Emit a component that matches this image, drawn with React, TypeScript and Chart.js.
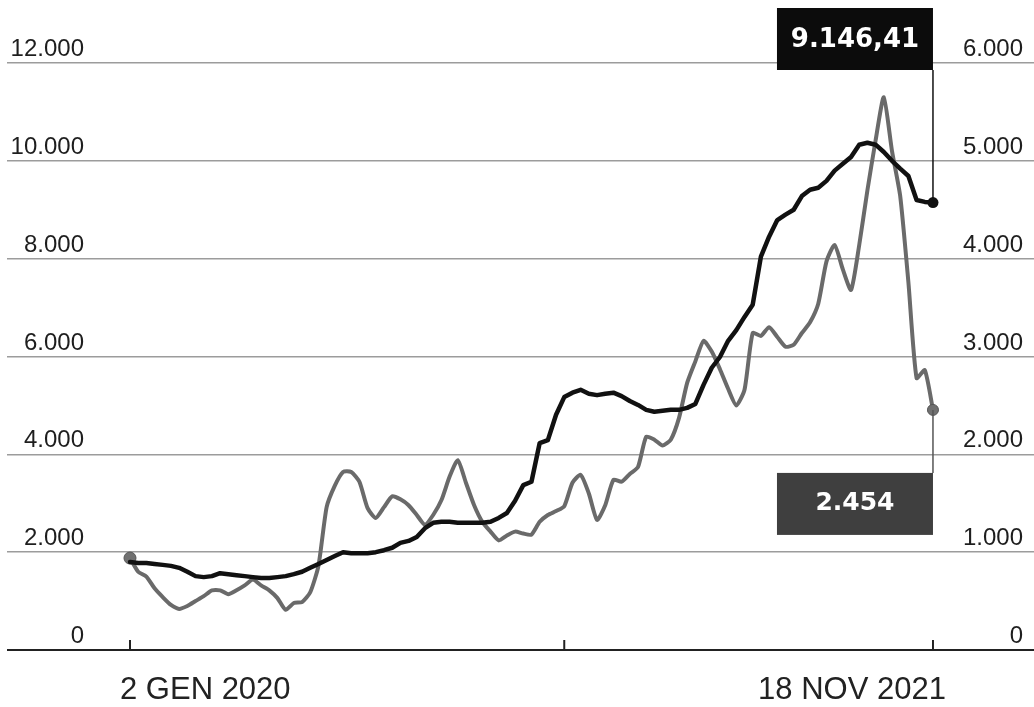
import React, { useEffect, useRef } from "react";
import { Chart, registerables } from "chart.js";

Chart.register(...registerables);

// Weekly observations from 2 Jan 2020 (index 0) to 18 Nov 2021 (index 98)
const xTickIndex = [0, 53, 98];
const xTickLabels = ["2 GEN 2020", "", "18 NOV 2021"];
const leftTicks = [0, 2000, 4000, 6000, 8000, 10000, 12000];
const rightTicks = [0, 1000, 2000, 3000, 4000, 5000, 6000];

// Black series (left axis)
const blackSeries = [
  1800, 1780, 1780, 1760, 1740, 1720, 1680, 1600, 1510, 1490,
  1510, 1570, 1550, 1530, 1510, 1490, 1470, 1470, 1490, 1510,
  1550, 1600, 1680, 1760, 1840, 1920, 2000, 1980, 1980, 1980,
  2000, 2040, 2090, 2190, 2230, 2310, 2490, 2600, 2620, 2620,
  2600, 2600, 2600, 2600, 2620, 2700, 2800, 3050, 3370, 3440,
  4230, 4290, 4810, 5170, 5260, 5320, 5240, 5210, 5240, 5260,
  5190, 5090, 5010, 4910, 4870, 4890, 4910, 4910, 4950, 5030,
  5420, 5770, 5990, 6320, 6540, 6810, 7060, 8040, 8450, 8790,
  8900, 9000, 9280, 9410, 9450, 9590, 9800, 9940, 10080, 10330,
  10370, 10330, 10180, 10000, 9840, 9690, 9200, 9160, 9146.41,
];

// Gray series (right axis)
const graySeries = [
  940, 800, 750, 630, 540, 460, 420, 450, 500, 550,
  610, 610, 570, 610, 660, 720, 660, 610, 530, 410,
  480, 490, 590, 860, 1460, 1680, 1820, 1820, 1720, 1450,
  1350, 1460, 1570, 1540, 1480, 1380, 1280, 1380, 1530, 1770,
  1940, 1710, 1480, 1310, 1210, 1120, 1170, 1210, 1190, 1180,
  1310, 1380, 1420, 1470, 1710, 1790, 1600, 1330, 1480, 1740,
  1720, 1800, 1870, 2180, 2150, 2090, 2150, 2370, 2730, 2950,
  3160, 3050, 2870, 2670, 2500, 2660, 3240, 3210, 3300, 3200,
  3100, 3120, 3240, 3350, 3540, 3970, 4140, 3890, 3680, 4140,
  4700, 5210, 5650, 5100, 4640, 3760, 2780, 2860, 2454,
];

const blackLastLabel = "9.146,41";
const grayLastLabel = "2.454";

const fmt = (v: number) => String(v).replace(/\B(?=(\d{3})+(?!\d))/g, ".");

const LABEL_FONT = '"Liberation Sans", Arial, sans-serif';
const BOX_FONT = '"DejaVu Sans", sans-serif';

const overlayPlugin = {
  id: "overlay",
  afterDatasetsDraw(chart: any) {
    const { ctx, chartArea, scales } = chart;
    const x = scales.x;
    const y = scales.y;
    const y1 = scales.y1;
    ctx.save();

    // x axis baseline
    const y0 = y.getPixelForValue(0);
    ctx.strokeStyle = "#222";
    ctx.lineWidth = 2;
    ctx.beginPath();
    ctx.moveTo(chartArea.left, y0);
    ctx.lineTo(chartArea.right, y0);
    ctx.stroke();

    // x ticks (pointing up) and labels
    ctx.font = `31px ${LABEL_FONT}`;
    ctx.fillStyle = "#222";
    ctx.textBaseline = "alphabetic";
    xTickIndex.forEach((idx, k) => {
      const px = x.getPixelForValue(idx);
      ctx.beginPath();
      ctx.moveTo(px, y0 - 10);
      ctx.lineTo(px, y0);
      ctx.stroke();
      const lab = xTickLabels[k];
      if (!lab) return;
      if (k === 0) {
        ctx.textAlign = "left";
        ctx.fillText(lab, px - 10, y0 + 49);
      } else {
        ctx.textAlign = "right";
        ctx.fillText(lab, px + 13, y0 + 49);
      }
    });

    // y labels
    ctx.font = `24px ${LABEL_FONT}`;
    ctx.fillStyle = "#1e1e1e";
    ctx.textAlign = "right";
    leftTicks.forEach((v) => {
      ctx.fillText(fmt(v), chartArea.left + 77, y.getPixelForValue(v) - 7);
    });
    rightTicks.forEach((v) => {
      ctx.fillText(fmt(v), chartArea.right - 11, y1.getPixelForValue(v) - 7);
    });

    // annotations
    const lastIdx = blackSeries.length - 1;
    const px = x.getPixelForValue(lastIdx);
    const bY = y.getPixelForValue(blackSeries[lastIdx]);
    const gY = y1.getPixelForValue(graySeries[lastIdx]);
    const boxW = 156;
    const boxH = 62;

    // black box
    const topBoxY = y.getPixelForValue(12000) - 55;
    ctx.strokeStyle = "#111";
    ctx.lineWidth = 1.5;
    ctx.beginPath();
    ctx.moveTo(px, topBoxY + boxH);
    ctx.lineTo(px, bY);
    ctx.stroke();
    ctx.fillStyle = "#0c0c0c";
    ctx.fillRect(px - boxW, topBoxY, boxW, boxH);
    ctx.fillStyle = "#ffffff";
    ctx.font = `bold 26px ${BOX_FONT}`;
    ctx.textAlign = "center";
    ctx.textBaseline = "middle";
    ctx.fillText(blackLastLabel, px - boxW / 2, topBoxY + boxH / 2 + 1);

    // gray box
    const grayBoxY = gY + 63;
    ctx.strokeStyle = "#555";
    ctx.beginPath();
    ctx.moveTo(px, gY);
    ctx.lineTo(px, grayBoxY);
    ctx.stroke();
    ctx.fillStyle = "#3f3f3f";
    ctx.fillRect(px - boxW, grayBoxY, boxW, boxH);
    ctx.fillStyle = "#ffffff";
    ctx.font = `bold 25px ${BOX_FONT}`;
    ctx.fillText(grayLastLabel, px - boxW / 2, grayBoxY + boxH / 2);

    ctx.restore();
  },
};

export default function App() {
  const canvasRef = useRef<HTMLCanvasElement | null>(null);

  useEffect(() => {
    document.body.style.margin = "0";
    const canvas = canvasRef.current;
    if (!canvas) return;
    const lastIdx = blackSeries.length - 1;
    const chart = new Chart(canvas, {
      type: "line",
      data: {
        datasets: [
          {
            label: "black",
            data: blackSeries.map((v, i) => ({ x: i, y: v })),
            yAxisID: "y",
            borderColor: "#111111",
            backgroundColor: "#111111",
            borderWidth: 4.5,
            tension: 0,
            borderJoinStyle: "round",
            borderCapStyle: "round",
            pointRadius: (c: any) => (c.dataIndex === lastIdx ? 5.5 : 0),
            pointBorderWidth: 0,
          },
          {
            label: "gray",
            data: graySeries.map((v, i) => ({ x: i, y: v })),
            yAxisID: "y1",
            borderColor: "#6a6a6a",
            backgroundColor: "#707070",
            borderWidth: 4,
            tension: 0.2,
            borderJoinStyle: "round",
            borderCapStyle: "round",
            pointRadius: (c: any) =>
              c.dataIndex === 0 ? 6 : c.dataIndex === lastIdx ? 5.5 : 0,
            pointBorderColor: "#555",
            pointBorderWidth: 1,
          },
        ],
      },
      options: {
        animation: false,
        responsive: true,
        maintainAspectRatio: false,
        layout: {
          autoPadding: false,
          padding: { left: 7, right: 0, top: 63, bottom: 57 },
        },
        plugins: {
          legend: { display: false },
          tooltip: { enabled: false },
        },
        scales: {
          x: {
            type: "linear",
            display: false,
            min: -15.01,
            max: 110.33,
          },
          y: {
            position: "left",
            min: 0,
            max: 12000,
            afterBuildTicks: (s: any) => {
              s.ticks = leftTicks.map((v) => ({ value: v }));
            },
            ticks: { display: false },
            grid: {
              drawTicks: false,
              color: (c: any) =>
                c.tick && c.tick.value === 0 ? "rgba(0,0,0,0)" : "#9c9c9c",
              lineWidth: 1.5,
            },
            border: { display: false },
          },
          y1: {
            position: "right",
            min: 0,
            max: 6000,
            display: false,
          },
        },
      },
      plugins: [overlayPlugin],
    });
    return () => chart.destroy();
  }, []);

  return (
    <div style={{ width: "1034px", height: "707px", position: "relative" }}>
      <canvas ref={canvasRef} />
    </div>
  );
}
